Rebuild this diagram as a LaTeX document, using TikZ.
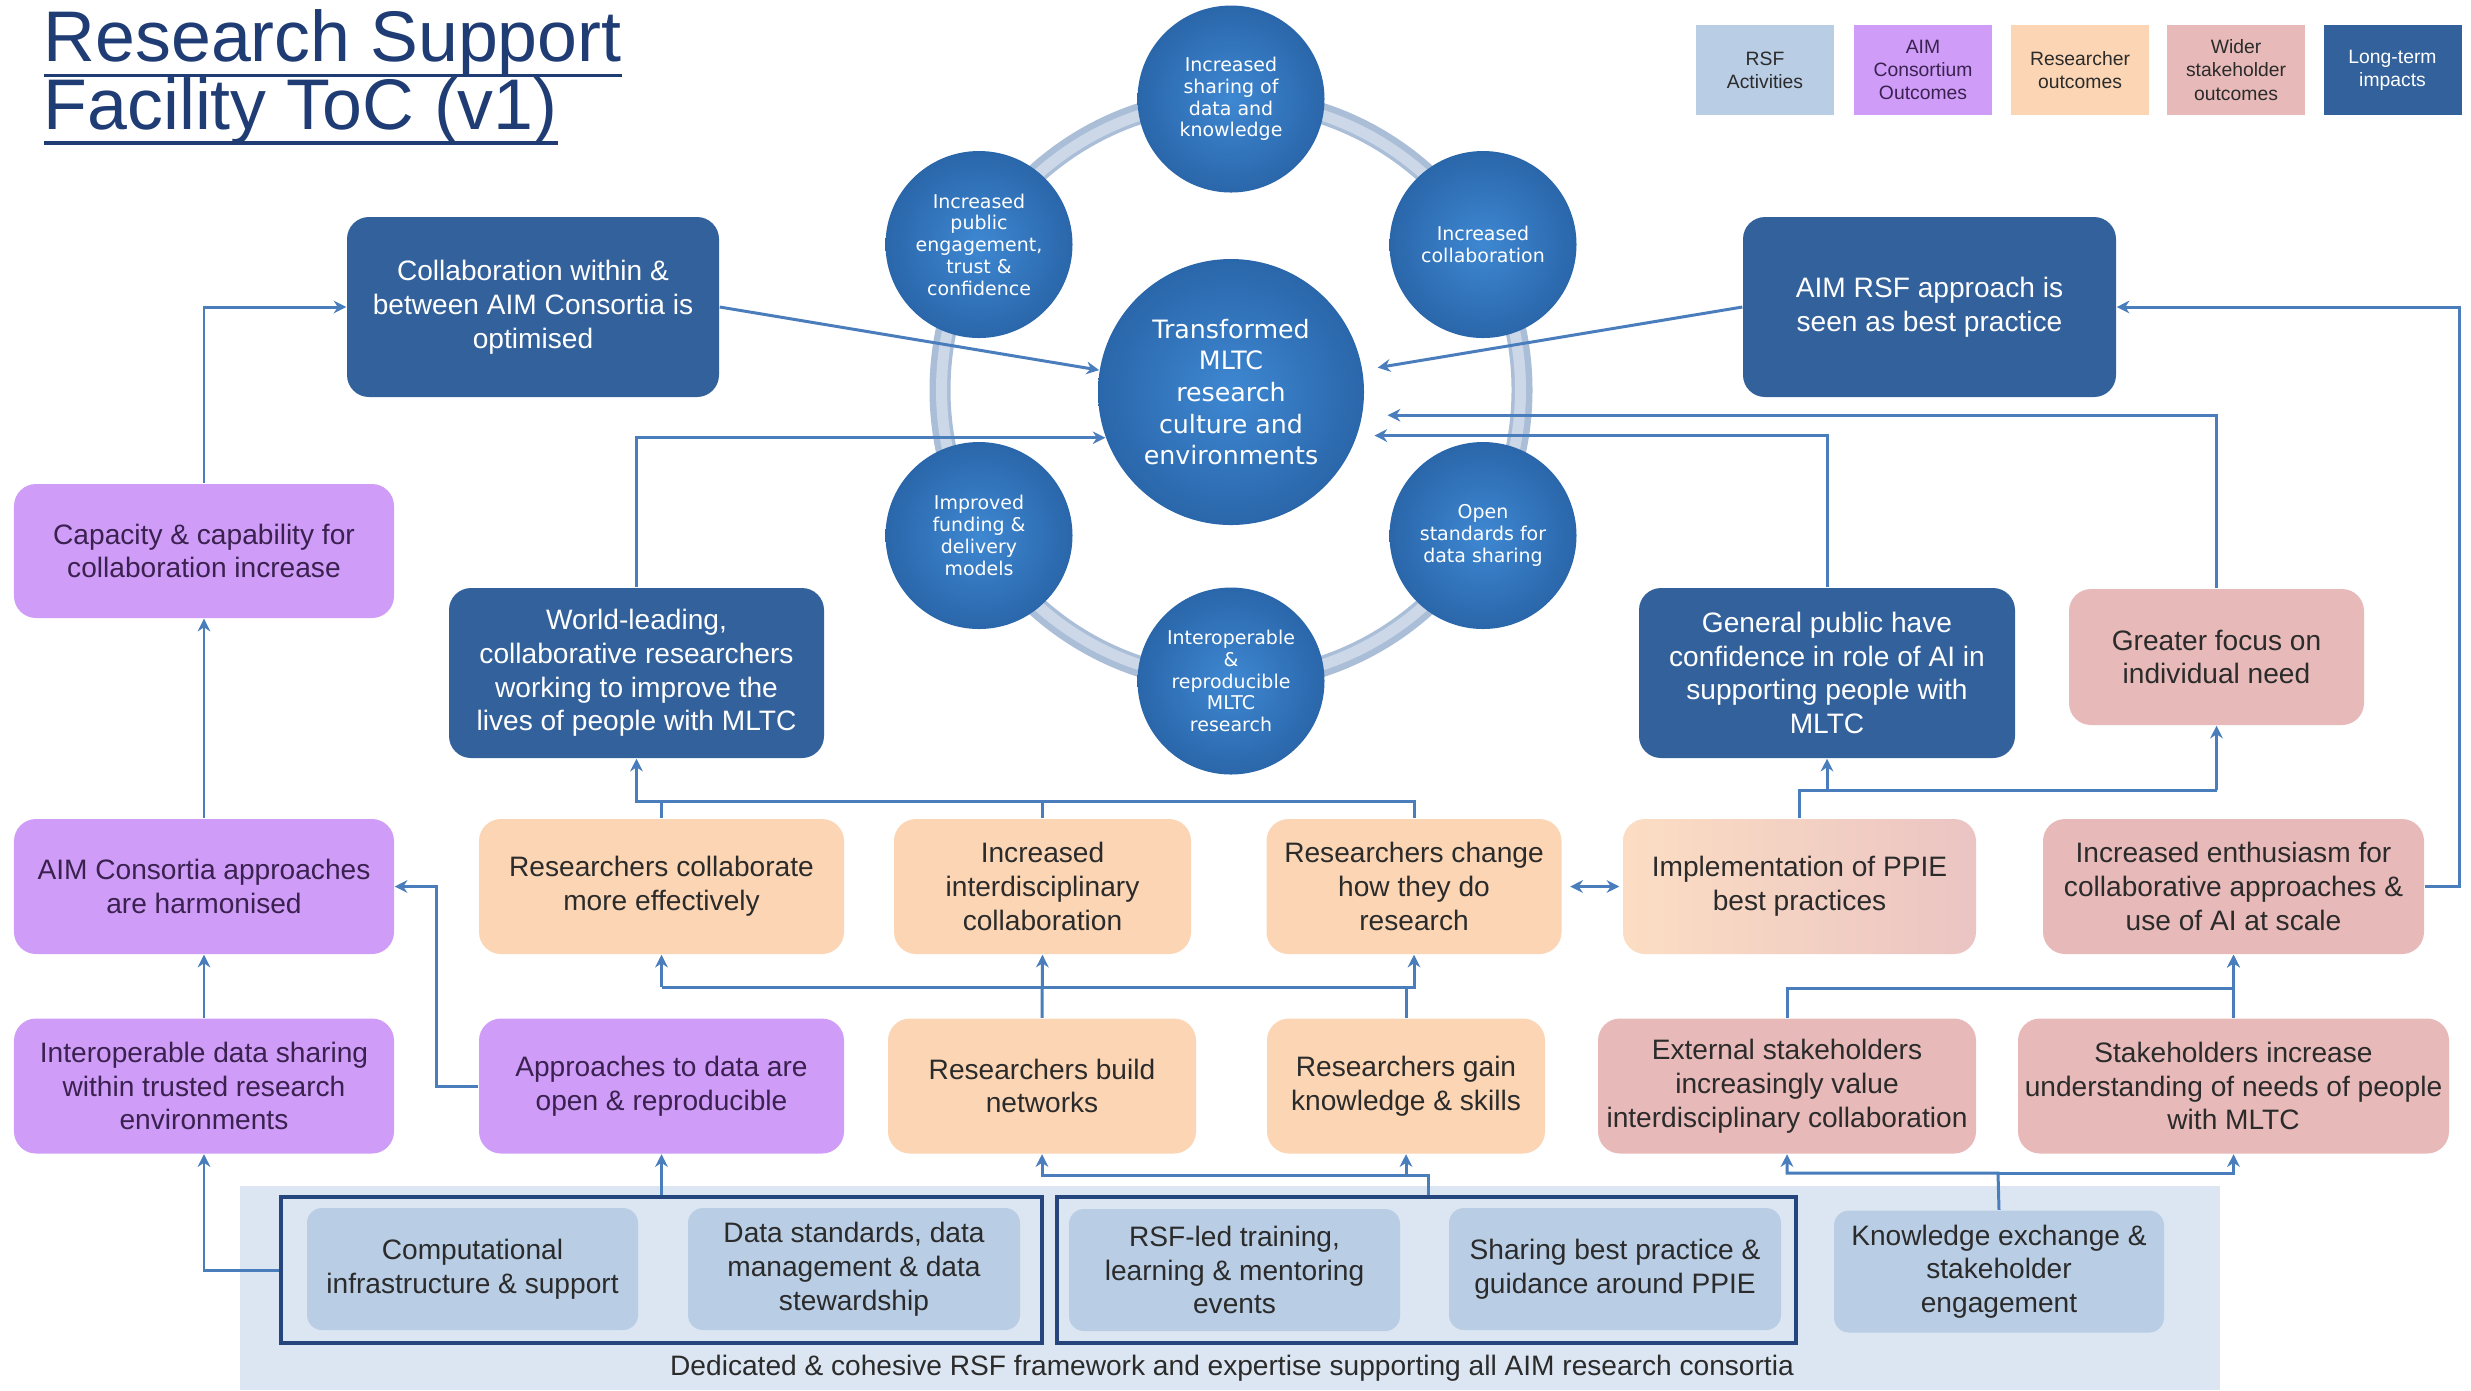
\documentclass[tikz,border=0pt]{standalone}
\usepackage{fontspec}
\setmainfont{Liberation Sans}
\newfontfamily\orbitface{DejaVu Sans}
\usetikzlibrary{shapes, arrows.meta}

\definecolor{titleblue}{HTML}{1F3C74}
\definecolor{impactblue}{HTML}{33619B}
\definecolor{orbitin}{HTML}{3E88D2}
\definecolor{orbitout}{HTML}{2A66AA}
\definecolor{consortpurple}{HTML}{CF9DF7}
\definecolor{consortink}{HTML}{3A2150}
\definecolor{researchpeach}{HTML}{FBD5B4}
\definecolor{widerpink}{HTML}{E7BAB9}
\definecolor{activityblue}{HTML}{B9CDE5}
\definecolor{panelblue}{HTML}{DCE6F2}
\definecolor{connblue}{HTML}{4A7DBB}
\definecolor{groupnavy}{HTML}{24467C}
\definecolor{ringdark}{HTML}{ABBED8}
\definecolor{ringlight}{HTML}{CCD8E8}
\definecolor{inktext}{HTML}{2B2B2B}

\newcommand{\tocfont}{\fontsize{8}{9.6}\selectfont}
\newcommand{\tockeyfont}{\fontsize{5.5}{6.6}\selectfont}
\newcommand{\titleul}[1]{\leavevmode\setbox0=\hbox{#1}\rlap{\rule[-4.4pt]{\wd0}{0.9pt}}\box0}

\begin{document}
\begin{tikzpicture}[
    text centered,
	tocbox/.style={
	  rectangle,
	  rounded corners=0.22cm,
	  align=center,
	  inner sep=1pt,
	  font=\tocfont,
	  text=inktext
	},
	impact/.style={
	  tocbox,
	  fill=impactblue,
	  text=white
	},
	consort/.style={
	  tocbox,
	  fill=consortpurple,
	  text=consortink,
	  minimum height=1.35cm
	},
	research/.style={
	  tocbox,
	  fill=researchpeach,
	  minimum height=1.35cm
	},
	wider/.style={
	  tocbox,
	  fill=widerpink,
	  minimum height=1.35cm
	},
	activity/.style={
	  tocbox,
	  rounded corners=0.15cm,
	  fill=activityblue,
	  minimum height=1.22cm
	},
	rsfgroup/.style={
	  rectangle,
	  draw=groupnavy,
	  line width=1pt,
	  minimum height=1.46cm,
	  inner sep=0pt
	},
	keybox/.style={
	  rectangle,
	  minimum width=1.38cm,
	  minimum height=0.90cm,
	  inner sep=1pt,
	  align=center,
	  font=\tockeyfont,
	  text=inktext
	},
	hub/.style={
	  circle,
	  minimum size=2.66cm,
	  inner sep=0pt,
	  inner color=orbitin,
	  outer color=orbitout,
	  text=white,
	  align=center,
	  font=\orbitface\fontsize{7.2}{9}\selectfont
	},
	orbit/.style={
	  circle,
	  minimum size=1.87cm,
	  inner sep=0pt,
	  inner color=orbitin,
	  outer color=orbitout,
	  text=white,
	  align=center,
	  font=\orbitface\fontsize{5.4}{6.2}\selectfont
	},
	line/.style={draw=connblue, line width=0.85pt, -{Stealth[length=3.6pt, width=3.6pt]}},
	pipe/.style={draw=connblue, line width=0.85pt},
	biline/.style={draw=connblue, line width=0.85pt, {Stealth[length=3.6pt, width=3.6pt]}-{Stealth[length=3.6pt, width=3.6pt]}, shorten <=0.08cm, shorten >=0.03cm}
	]
	\fill[white] (0, 0) rectangle (24.71, -13.90);
	\useasboundingbox (0, 0) rectangle (24.71, -13.90);
	\node at (0.43, -0.09) [anchor=north west, inner sep=0pt, align=left, text=titleblue, font=\fontsize{20.4}{19.2}\selectfont] (title) {\titleul{Research Support}\\\titleul{Facility ToC (v1)}};
	% legend
	\node at (17.65, -0.70) [keybox, fill=activityblue] (keyrsf) {RSF\\Activities};
	\node at (19.23, -0.70) [keybox, fill=consortpurple, text=consortink] (keyaim) {AIM\\Consortium\\Outcomes};
	\node at (20.80, -0.70) [keybox, fill=researchpeach] (keyres) {Researcher\\outcomes};
	\node at (22.36, -0.70) [keybox, fill=widerpink] (keywider) {Wider\\stakeholder\\outcomes};
	\node at (23.925, -0.70) [keybox, fill=impactblue, text=white] (keylong) {Long-term\\impacts};
	% RSF panel
	\node at (12.30, -12.88) [fill=panelblue, minimum width=19.80cm, minimum height=2.04cm, inner sep=0pt] (panel) {};
	\node at (6.615, -12.70) [rsfgroup, minimum width=7.61cm] (group1) {};
	\node at (14.265, -12.70) [rsfgroup, minimum width=7.39cm] (group2) {};
	\node at (4.725, -12.69) [activity, minimum width=3.31cm] (compute) {Computational\\infrastructure \& support};
	\node at (8.54, -12.69) [activity, minimum width=3.32cm] (datastd) {Data standards, data\\management \& data\\stewardship};
	\node at (12.345, -12.70) [activity, minimum width=3.31cm] (training) {RSF-led training,\\learning \& mentoring\\events};
	\node at (16.15, -12.69) [activity, minimum width=3.32cm] (bestprac) {Sharing best practice \&\\guidance around PPIE};
	\node at (19.99, -12.715) [activity, minimum width=3.30cm] (knowex) {Knowledge exchange \&\\stakeholder\\engagement};
	\node at (12.32, -13.68) [font=\tocfont, text=inktext, inner sep=0pt] (framework) {Dedicated \& cohesive RSF framework and expertise supporting all AIM research consortia};
	% outcome rows
	\node at (2.04, -10.86) [consort, minimum width=3.80cm] (interop) {Interoperable data sharing\\within trusted research\\environments};
	\node at (6.615, -10.86) [consort, minimum width=3.65cm] (approach) {Approaches to data are\\open \& reproducible};
	\node at (10.42, -10.86) [research, minimum width=3.08cm] (networks) {Researchers build\\networks};
	\node at (14.06, -10.86) [research, minimum width=2.78cm] (gain) {Researchers gain\\knowledge \& skills};
	\node at (17.87, -10.86) [wider, minimum width=3.78cm] (extstake) {External stakeholders\\increasingly value\\interdisciplinary collaboration};
	\node at (22.335, -10.86) [wider, minimum width=4.31cm] (stakeinc) {Stakeholders increase\\understanding of needs of people\\with MLTC};
	\node at (2.04, -8.865) [consort, minimum width=3.80cm] (harmon) {AIM Consortia approaches\\are harmonised};
	\node at (6.615, -8.865) [research, minimum width=3.65cm] (rcollab) {Researchers collaborate\\more effectively};
	\node at (10.425, -8.865) [research, minimum width=2.97cm] (interdisc) {Increased\\interdisciplinary\\collaboration};
	\node at (14.14, -8.865) [research, minimum width=2.95cm] (rchange) {Researchers change\\how they do\\research};
	\node at (17.995, -8.865) [tocbox, minimum width=3.53cm, minimum height=1.35cm, left color=researchpeach!80!white, middle color=white!85!researchpeach, right color=widerpink!85!white] (ppie) {Implementation of PPIE\\best practices};
	\node at (22.335, -8.865) [wider, minimum width=3.81cm] (enthus) {Increased enthusiasm for\\collaborative approaches \&\\use of AI at scale};
	\node at (2.04, -5.51) [consort, minimum width=3.80cm, minimum height=1.34cm] (capacity) {Capacity \& capability for\\collaboration increase};
	\node at (6.365, -6.73) [impact, minimum width=3.75cm, minimum height=1.70cm] (worldlead) {World-leading,\\collaborative researchers\\working to improve the\\lives of people with MLTC};
	\node at (18.27, -6.73) [impact, minimum width=3.76cm, minimum height=1.70cm] (genpub) {General public have\\confidence in role of AI in\\supporting people with\\MLTC};
	\node at (22.165, -6.57) [wider, minimum width=2.95cm, minimum height=1.36cm] (greater) {Greater focus on\\individual need};
	\node at (5.33, -3.07) [impact, minimum width=3.72cm, minimum height=1.80cm] (collab) {Collaboration within \&\\between AIM Consortia is\\optimised};
	\node at (19.295, -3.07) [impact, minimum width=3.73cm, minimum height=1.80cm] (aimrsf) {AIM RSF approach is\\seen as best practice};
	% ring of circles
	\draw[ringdark, line width=0.21cm] (12.31, -3.90) circle (2.91);
	\draw[ringlight, line width=0.11cm] (12.31, -3.90) circle (2.895);
	\node at (12.31, -3.92) [hub] (central) {Transformed\\MLTC\\research\\culture and\\environments};
	\node at (12.31, -0.99) [orbit] (orbshare) {Increased\\sharing of\\data and\\knowledge};
	\node at (14.83, -2.445) [orbit] (orbcollab) {Increased\\collaboration};
	\node at (14.83, -5.355) [orbit] (orbopen) {Open\\standards for\\data sharing};
	\node at (12.31, -6.81) [orbit] (orbinterop) {Interoperable\\\&\\reproducible\\MLTC\\research};
	\node at (9.79, -5.355) [orbit] (orbfund) {Improved\\funding \&\\delivery\\models};
	\node at (9.79, -2.445) [orbit] (orbpublic) {Increased\\public\\engagement,\\trust \&\\confidence};
	% connectors
	\coordinate (rrail) at (24.59, -3.07);
	\coordinate (feedbus) at (14.28, -11.75);
	\coordinate (kebus) at (19.98, -11.73);
	\coordinate (sbus) at (17.87, -9.88);
	\coordinate (rbus) at (10.42, -9.87);
	\coordinate (tbus) at (10.42, -8.01);
	\coordinate (pbus) at (17.99, -7.90);
	\path[line] (capacity.north) |- (collab.west);
	\path[line] (collab.east) -- (central);
	\path[line, shorten >=0.15cm] (aimrsf.west) -- (central);
	\path[line] (worldlead.north) |- (central.200);
	\path[line, shorten >=0.17cm] (genpub.north) |- (central.-19);
	\path[line, shorten >=0.25cm] (greater.north) |- (central.-10);
	\path[line] (enthus.east) -| (rrail) -- (aimrsf.east);
	\path[line] (harmon.north) -- (capacity.south);
	\path[line] (interop.north) -- (harmon.south);
	\path[line] (approach.west) -- ++(-0.42, 0) |- (harmon.east);
	\path[line] (group1.west) -| (interop.south);
	\path[line] (approach.south |- group1.north) -- (approach.south);
	\path[line] (feedbus |- group2.north) -- (feedbus) -| (networks.south);
	\path[line] (gain.south |- feedbus) -- (gain.south);
	\path[line] (knowex.north) -- (kebus) -| (extstake.south);
	\path[line] (kebus) -| (stakeinc.south);
	\path[line] (extstake.north) -- (sbus) -| (enthus.south);
	\path[line] (stakeinc.north) -- (enthus.south);
	\path[pipe] (rcollab.south |- rbus) -- (gain.north |- rbus);
	\path[line] (rcollab.south |- rbus) -- (rcollab.south);
	\path[line] (networks.north) -- (interdisc.south);
	\path[line] (gain.north) |- (rbus -| rchange.south) -- (rchange.south);
	\path[pipe] (rcollab.north) |- (rchange.north |- tbus) -- (rchange.north);
	\path[pipe] (interdisc.north) -- (interdisc.north |- tbus);
	\path[line] (rcollab.north |- tbus) -| (worldlead.south);
	\path[pipe] (ppie.north) |- (greater.south |- pbus);
	\path[line] (greater.south |- pbus) -- (greater.south);
	\path[line] (genpub.south |- pbus) -- (genpub.south);
	\path[biline] (rchange.east) -- (ppie.west);
  \end{tikzpicture}
\end{document}
